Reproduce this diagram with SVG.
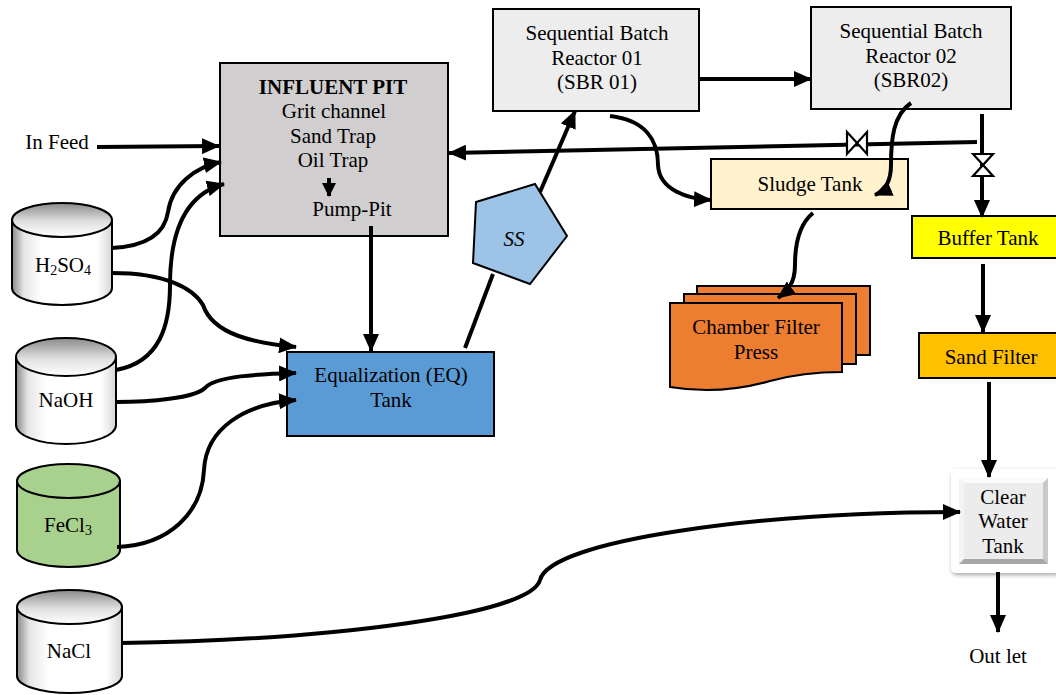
<svg xmlns="http://www.w3.org/2000/svg" width="1056" height="695" viewBox="0 0 1056 695">
<style>
.t{font-family:"Liberation Serif","Times New Roman",serif;font-size:21px;fill:#000;text-anchor:middle}
.b{stroke:#000;stroke-width:2}
.c{fill:none;stroke:#000;stroke-width:4}
.a{marker-end:url(#arr)}
.v{fill:#fff;stroke:#000;stroke-width:2.2}
</style>
<defs>
<marker id="arr" viewBox="0 0 18 16" markerWidth="18" markerHeight="16" refX="17" refY="8" orient="auto" markerUnits="userSpaceOnUse">
<path d="M0,0 L18,8 L0,16 Z" fill="#000"/>
</marker>
<marker id="arrs" viewBox="0 0 14 14" markerWidth="14" markerHeight="14" refX="13" refY="7" orient="auto" markerUnits="userSpaceOnUse">
<path d="M0,0 L14,7 L0,14 Z" fill="#000"/>
</marker>
<linearGradient id="cylBody" x1="0" y1="0" x2="1" y2="0">
<stop offset="0" stop-color="#8a8a8a"/>
<stop offset="0.12" stop-color="#e6e6e6"/>
<stop offset="0.3" stop-color="#fff"/>
<stop offset="0.85" stop-color="#fff"/>
<stop offset="1" stop-color="#d6d6d6"/>
</linearGradient>
<linearGradient id="cylTop" x1="0" y1="0" x2="0" y2="1">
<stop offset="0" stop-color="#8a8a8a"/>
<stop offset="0.55" stop-color="#e0e0e0"/>
<stop offset="1" stop-color="#fff"/>
</linearGradient>
<filter id="sh" x="-20%" y="-20%" width="140%" height="140%">
<feDropShadow dx="1" dy="2" stdDeviation="2" flood-color="#000" flood-opacity="0.35"/>
</filter>
</defs>

<g id="influent-pit">
<rect x="220" y="63" width="228" height="173" fill="#d0cece" class="b"/>
<text class="t" x="333" y="94" font-weight="bold">INFLUENT PIT</text>
<text class="t" x="334" y="118">Grit channel</text>
<text class="t" x="333" y="143">Sand Trap</text>
<text class="t" x="333" y="167">Oil Trap</text>
<text class="t" x="352" y="216">Pump-Pit</text>
</g>

<g id="in-feed">
<text class="t" x="57" y="149">In Feed</text>
</g>

<g id="h2so4">
<path d="M12,220 L12,288 A50,17 0 0 0 112,288 L112,220 Z" fill="url(#cylBody)" class="b"/>
<ellipse cx="62" cy="220" rx="50" ry="17" fill="url(#cylTop)" class="b"/>
<text class="t" x="63" y="272">H<tspan font-size="14" dy="3">2</tspan><tspan dy="-3">SO</tspan><tspan font-size="14" dy="3">4</tspan></text>
</g>

<g id="naoh">
<path d="M16,357 L16,425 A50,19 0 0 0 116,425 L116,357 Z" fill="url(#cylBody)" class="b"/>
<ellipse cx="66" cy="357" rx="50" ry="19" fill="url(#cylTop)" class="b"/>
<text class="t" x="66" y="407">NaOH</text>
</g>

<g id="fecl3">
<path d="M17,481 L17,550 A51.5,17 0 0 0 120,550 L120,481 Z" fill="#a9d18e" class="b"/>
<ellipse cx="68.5" cy="481" rx="51.5" ry="17" fill="#a9d18e" class="b"/>
<text class="t" x="68" y="532">FeCl<tspan font-size="14" dy="3">3</tspan></text>
</g>

<g id="nacl">
<path d="M17,607 L17,676 A52.5,17 0 0 0 122,676 L122,607 Z" fill="url(#cylBody)" class="b"/>
<ellipse cx="69.5" cy="607" rx="52.5" ry="17" fill="url(#cylTop)" class="b"/>
<text class="t" x="69" y="658">NaCl</text>
</g>

<g id="eq-tank">
<rect x="287" y="352" width="207" height="84" fill="#5b9bd5" class="b"/>
<text class="t" x="391" y="382">Equalization (EQ)</text>
<text class="t" x="391" y="407">Tank</text>
</g>

<g id="ss">
<polygon points="476,202 535,184 567,236 530,284 473,263" fill="#9dc3e6" class="b" stroke-width="2.5"/>
<text class="t" x="514" y="246" font-style="italic" font-size="17">SS</text>
</g>

<g id="sbr01">
<rect x="493" y="9" width="206" height="102" fill="#ededed" class="b"/>
<text class="t" x="597" y="40">Sequential Batch</text>
<text class="t" x="597" y="65">Reactor 01</text>
<text class="t" x="597" y="89">(SBR 01)</text>
</g>

<g id="sbr02">
<rect x="811" y="7" width="200" height="102" fill="#ededed" class="b"/>
<text class="t" x="911" y="38">Sequential Batch</text>
<text class="t" x="911" y="63">Reactor 02</text>
<text class="t" x="911" y="87">(SBR02)</text>
</g>

<g id="sludge-tank">
<rect x="711" y="159" width="197" height="50" fill="#fff2cc" class="b"/>
<text class="t" x="810" y="191">Sludge Tank</text>
</g>

<g id="chamber-filter-press">
<rect x="697" y="286" width="173" height="69" fill="#ed7d31" class="b"/>
<rect x="684" y="294" width="172" height="70" fill="#ed7d31" class="b"/>
<path d="M670,303 H842 V372 C815,372 792,375 770,381 C735,391 700,392 670,387 Z" fill="#ed7d31" class="b"/>
<text class="t" x="756" y="334">Chamber Filter</text>
<text class="t" x="756" y="359">Press</text>
</g>

<g id="buffer-tank">
<rect x="912" y="216" width="150" height="42" fill="#ffff00" class="b"/>
<text class="t" x="988" y="245">Buffer Tank</text>
</g>

<g id="sand-filter">
<rect x="919" y="333" width="143" height="45" fill="#ffc000" class="b"/>
<text class="t" x="991" y="364">Sand Filter</text>
</g>

<g id="clear-water-tank">
<rect x="951" y="469" width="110" height="104" rx="5" fill="#fff" filter="url(#sh)"/>
<rect x="959" y="478" width="89" height="86" fill="#ececec"/>
<polygon points="959,478 1048,478 1043,483 964,483" fill="#fafafa"/>
<polygon points="959,478 964,483 964,559 959,564" fill="#f4f4f4"/>
<polygon points="1048,478 1048,564 1043,559 1043,483" fill="#c8c8c8"/>
<polygon points="959,564 964,559 1043,559 1048,564" fill="#a8a8a8"/>
<text class="t" x="1003" y="504">Clear</text>
<text class="t" x="1003" y="528">Water</text>
<text class="t" x="1003" y="553">Tank</text>
</g>

<g id="outlet">
<text class="t" x="998" y="663">Out let</text>
</g>

<g id="connectors">
<path class="c a" d="M97,147 L219,146"/>
<path class="c a" d="M112,248 C150,246 165,232 168,212 C172,185 195,167 221,162"/>
<path class="c a" d="M116,370 C160,362 170,325 170,285 C170,225 190,193 224,184"/>
<path class="c a" d="M112,273 C165,273 193,288 203,305 C213,335 255,343 296,347"/>
<path class="c a" d="M116,402 C150,402 195,398 205,388 C215,376 260,374 296,373"/>
<path class="c a" d="M117,547 C170,545 202,512 204,470 C206,428 245,404 296,400"/>
<path class="c" d="M329,178 L329,196" marker-end="url(#arrs)"/>
<path class="c a" d="M371,226 L371,351"/>
<path class="c" d="M465,348 L493,274"/>
<path class="c a" d="M540,192 L575,111"/>
<path class="c a" d="M699,79 L811,79"/>
<path class="c a" d="M610,116 C645,120 658,140 658,165 C659,190 688,199 711,200"/>
<path class="c a" d="M911,103 C893,115 891,140 891,165 C891,185 882,192 875,195"/>
<path class="c a" d="M977,142 L449,153"/>
<path class="c a" d="M982,114 L982,217"/>
<path class="c a" d="M813,213 C797,226 795,250 795,265 C795,285 786,292 778,298"/>
<path class="c a" d="M983,264 L983,332"/>
<path class="c a" d="M989,382 L989,477"/>
<path class="c a" d="M121,643 C330,640 530,615 540,580 C550,540 760,512 960,512"/>
<path class="c a" d="M998,572 L998,632"/>
<path class="v" d="M847,132 L867,154 L867,132 L847,154 Z"/>
<path class="v" d="M973,154 L993,176 L973,176 L993,154 Z"/>
</g>
</svg>
